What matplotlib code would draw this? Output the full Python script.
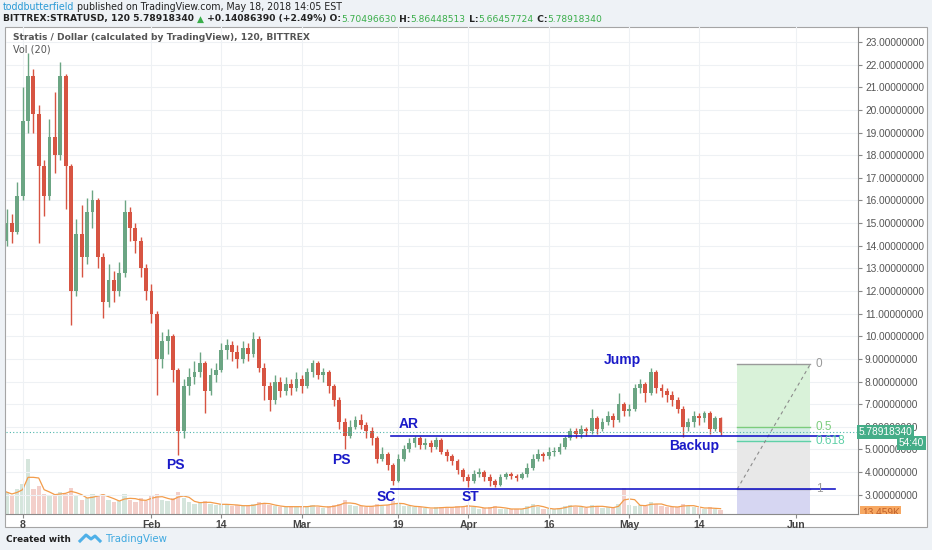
import numpy as np
import pandas as pd
import matplotlib
matplotlib.use("Agg")
import matplotlib.pyplot as plt
from matplotlib.patches import Rectangle
from matplotlib.transforms import Bbox

plt.rcParams["font.family"] = ["Liberation Sans", "DejaVu Sans"]

# 2h STRAT/USD chart from TradingView, resampled by eye to one candle per day
# day numbers are days since Jan 1 2018 (Jan 8 = 7, Feb 1 = 31, ...)
first_day = 4
first_open = 14.2
close = [15.0, 14.6, 16.2, 19.5, 21.5, 19.8, 17.5, 16.2, 18.8, 18.0,
         21.5, 17.5, 12.0, 14.5, 13.5, 15.5, 16.0, 13.5, 11.5, 12.5,
         12.0, 12.8, 15.5, 14.8, 14.2, 13.0, 12.0, 11.0, 9.0, 9.8,
         10.0, 8.5, 5.8, 7.8, 8.2, 8.4, 8.8, 7.6, 8.3, 8.5,
         9.4, 9.6, 9.3, 9.0, 9.5, 9.2, 9.9, 8.6, 7.8, 7.2,
         8.0, 7.6, 7.9, 7.7, 8.1, 7.8, 8.4, 8.8, 8.3, 8.4,
         7.8, 7.2, 6.2, 5.6, 6.0, 6.3, 6.1, 5.8, 5.5, 4.6,
         4.8, 4.3, 3.6, 4.6, 5.0, 5.3, 5.5, 5.2, 5.3, 5.1,
         5.4, 4.9, 4.7, 4.5, 4.1, 3.8, 3.6, 3.9, 4.0, 3.8,
         3.6, 3.45, 3.8, 3.9, 3.85, 3.75, 3.9, 4.2, 4.6, 4.8,
         4.7, 4.9, 4.9, 5.1, 5.5, 5.8, 5.7, 5.9, 5.8, 6.4,
         5.9, 6.2, 6.5, 6.3, 7.0, 6.7, 6.8, 7.7, 7.9, 7.5,
         8.4, 7.7, 7.6, 7.4, 7.2, 6.8, 6.0, 6.2, 6.5, 6.4,
         6.6, 5.9, 6.4, 5.79]
high = [15.6, 15.4, 16.8, 21.0, 22.5, 21.8, 20.2, 17.8, 19.6, 20.8,
        22.1, 21.6, 17.6, 15.2, 15.8, 16.1, 16.45, 16.1, 13.7, 13.2,
        12.9, 13.3, 16.0, 15.7, 15.0, 14.4, 13.2, 12.3, 11.1, 10.2,
        10.3, 10.1, 8.6, 8.1, 8.6, 8.9, 9.3, 8.9, 8.6, 8.8,
        9.7, 9.9, 9.8, 9.6, 9.8, 9.7, 10.2, 10.0, 8.8, 8.0,
        8.3, 8.2, 8.2, 8.1, 8.4, 8.3, 8.6, 8.95, 8.9, 8.6,
        8.5, 7.9, 7.3, 6.4, 6.3, 6.5, 6.55, 6.2, 6.0, 5.6,
        5.1, 4.9, 4.4, 4.8, 5.2, 5.5, 5.6, 5.6, 5.5, 5.4,
        5.55, 5.5, 5.0, 4.8, 4.6, 4.2, 3.9, 4.1, 4.2, 4.1,
        3.9, 3.7, 3.9, 4.0, 4.0, 3.9, 4.0, 4.4, 4.8, 5.0,
        4.9, 5.1, 5.1, 5.3, 5.6, 5.95, 5.95, 6.1, 6.0, 6.8,
        6.5, 6.4, 6.7, 6.6, 7.5, 7.1, 7.0, 7.9, 8.1, 8.0,
        8.6, 8.5, 7.9, 7.7, 7.6, 7.3, 6.9, 6.4, 6.7, 6.6,
        6.7, 6.7, 6.5, 6.45]
low = [14.0, 14.1, 14.5, 16.0, 19.0, 19.0, 14.1, 15.3, 16.0, 17.2,
       17.8, 15.6, 10.5, 11.8, 12.6, 13.2, 14.8, 13.0, 10.8, 11.3,
       11.5, 11.8, 12.6, 14.2, 13.7, 12.6, 11.6, 10.6, 7.4, 8.6,
       9.2, 8.0, 4.75, 5.5, 7.4, 7.9, 8.2, 6.6, 7.4, 8.0,
       8.4, 9.0, 8.9, 8.6, 8.8, 8.9, 9.1, 8.4, 7.2, 6.7,
       7.0, 7.3, 7.4, 7.4, 7.6, 7.5, 7.7, 8.2, 8.1, 8.0,
       7.5, 6.9, 5.9, 5.0, 5.5, 5.9, 5.9, 5.5, 5.2, 4.4,
       4.5, 4.1, 3.43, 3.55, 4.5, 4.9, 5.1, 5.0, 5.0, 4.9,
       5.0, 4.8, 4.5, 4.3, 3.9, 3.6, 3.35, 3.5, 3.8, 3.6,
       3.4, 3.33, 3.4, 3.7, 3.7, 3.6, 3.7, 3.8, 4.1, 4.5,
       4.5, 4.6, 4.7, 4.8, 5.0, 5.4, 5.5, 5.5, 5.6, 5.7,
       5.7, 5.8, 6.1, 6.0, 6.2, 6.5, 6.5, 6.7, 7.5, 7.1,
       7.4, 7.5, 7.3, 7.1, 6.9, 6.6, 5.55, 5.8, 6.0, 6.1,
       6.2, 5.7, 5.8, 5.66]
volume = [22, 18, 25, 30, 55, 25, 28, 20, 18, 20,
          22, 20, 26, 18, 14, 16, 20, 18, 20, 14,
          12, 13, 20, 14, 12, 16, 13, 18, 20, 14,
          13, 16, 22, 16, 12, 10, 12, 13, 10, 9,
          10, 10, 8, 9, 8, 8, 10, 12, 10, 9,
          8, 7, 7, 8, 7, 7, 8, 9, 7, 6,
          8, 9, 10, 14, 9, 8, 8, 7, 8, 10,
          8, 9, 13, 10, 8, 8, 7, 7, 6, 5,
          7, 7, 6, 7, 8, 7, 9, 7, 5, 6,
          7, 8, 5, 5, 5, 5, 5, 8, 10, 7,
          5, 5, 5, 6, 8, 9, 7, 7, 6, 9,
          8, 6, 7, 6, 10, 26, 9, 8, 9, 8,
          12, 10, 8, 7, 7, 7, 10, 8, 7, 6,
          5, 7, 5, 4]

last_price = 5.78918340
ar_level = 5.6
sc_level = 3.24
fib_top = 8.76
fib_bottom = 3.25
fib_ratios = [0, 0.5, 0.618, 1]

tick_days = [7, 31, 44, 59, 77, 90, 105, 120, 133, 151]
tick_labels = ["8", "Feb", "14", "Mar", "19", "Apr", "16", "May", "14", "Jun"]

wyckoff = [("PS", 35.5, 4.31), ("PS", 66.4, 4.53), ("SC", 74.8, 2.9),
           ("AR", 78.9, 6.12), ("ST", 90.4, 2.9), ("Jump", 118.7, 8.95),
           ("Backup", 132.0, 5.15)]

W, H = 932, 550
up_col = "#6ba583"
down_col = "#d75442"
blue = "#1a1ac8"

fig = plt.figure(figsize=(W / 100, H / 100), dpi=100)
fig.patch.set_facecolor("#eef2f6")

def fx(x):
    return x / W

def fy(y):
    return 1 - y / H

# white chart frame
fig.patches.append(Rectangle((fx(5), fy(527)), fx(922), 500 / H, transform=fig.transFigure,
                             facecolor="white", edgecolor="#a5a5a5", lw=0.8, zorder=0))

rect = [fx(6), fy(514), fx(852), 487 / H]
vax = fig.add_axes(rect)
ax = fig.add_axes(rect, sharex=vax)
vax.set_zorder(1)
ax.set_zorder(2)
ax.patch.set_visible(False)
vax.patch.set_visible(False)

c = np.array(close)
o = np.concatenate([[first_open], c[:-1]])
h = np.array(high)
l = np.array(low)
days = first_day + np.arange(len(c))
rising = c >= o
cols = np.where(rising, up_col, down_col)

# volume pane
vol = np.array(volume)
vax.bar(days, vol, width=0.8, color=cols, alpha=0.28, lw=0)
vol_ma = pd.Series(vol).rolling(3, min_periods=1).mean()
vax.plot(days, vol_ma, color="#f39c4a", lw=0.9)
vax.set_ylim(0, 487)
vax.axis("off")

# candles
ax.vlines(days, l, h, colors=cols, lw=1.0)
ax.bar(days, np.maximum(np.abs(c - o), 0.05), bottom=np.minimum(o, c), width=0.72, color=cols, lw=0)

ax.set_xlim(3.9, 162.6)
ax.set_ylim(2.15, 23.66)

# fib retracement box
x0, x1 = 140.1, 153.7
span = fib_top - fib_bottom
lv = [fib_top - r * span for r in fib_ratios]
ax.fill_between([x0, x1], lv[1], lv[0], color="#d9f2d9", lw=0)
ax.fill_between([x0, x1], lv[2], lv[1], color="#d5eee6", lw=0)
ax.fill_between([x0, x1], lv[3], lv[2], color="#e8e8e8", lw=0)
ax.fill_between([x0, x1], 2.15, lv[3], color="#d6d6f2", lw=0)
fib_cols = ["#9a9a9a", "#7ccc7c", "#5fd0a8", "#9a9a9a"]
for r, y, fc in zip(fib_ratios, lv, fib_cols):
    ax.plot([x0, x1], [y, y], color=fc, lw=1)
    ax.text(154.7, y, "%g" % r, color=fc, fontsize=8.5, va="center", ha="left")
ax.plot([x0, x1], [fib_bottom, fib_top], color="#8c8c8c", lw=0.8, ls=(0, (3, 3)))

# support / resistance
ax.plot([75.7, 159.1], [ar_level, ar_level], color=blue, lw=1.2)
ax.plot([75.7, 158.4], [sc_level, sc_level], color=blue, lw=1.2)
ax.axhline(last_price, color="#4db6ac", lw=0.8, ls=(0, (1, 2)))

for txt, d, v in wyckoff:
    ax.text(d, v, txt, color=blue, fontsize=10, fontweight="bold", ha="center", va="center")

# axes styling
ax.yaxis.tick_right()
ax.set_yticks(range(3, 24))
ax.yaxis.set_major_formatter(plt.FuncFormatter(lambda v, p: "%.8f" % v))
ax.tick_params(axis="y", labelsize=7.3, labelcolor="#555555", color="#888888", length=3, pad=2)
ax.set_xticks(tick_days, tick_labels)
ax.tick_params(axis="x", labelsize=7.5, labelcolor="#444444", color="#888888", length=3, pad=1)
for lab in ax.get_xticklabels():
    lab.set_fontweight("bold")
ax.grid(True, color="#eef1f4", lw=0.8)
ax.set_axisbelow(True)
for s in ["top", "left"]:
    ax.spines[s].set_visible(False)
for s in ["right", "bottom"]:
    ax.spines[s].set_color("#8a8a8a")

# price-scale labels
fig.text(fx(859), fy(432), "5.78918340", color="white", fontsize=7.3, va="center", ha="left",
         bbox=dict(boxstyle="square,pad=0.15", fc="#45ad88", ec="none"))
fig.text(fx(924), fy(443), "54:40", color="white", fontsize=7.3, va="center", ha="right",
         bbox=dict(boxstyle="square,pad=0.15", fc="#45ad88", ec="none"))
t = fig.text(fx(862), fy(513), "13.459K", color="#c0602a", fontsize=7.3, va="center", ha="left",
             bbox=dict(boxstyle="square,pad=0.15", fc="#f7a862", ec="none"))
t.set_clip_box(Bbox.from_extents(850, H - 514, 932, H - 500))
t.set_clip_on(True)

# header lines, sized so each line spans the same width as in the screenshot
renderer = fig.canvas.get_renderer()

def chunks(x, y, parts, size, target):
    made = []
    x_start = x
    for s, col, wt in parts:
        tt = fig.text(fx(x), fy(y), s, color=col, fontsize=size, fontweight=wt, va="center",
                      ha="left", family="DejaVu Sans")
        made.append(tt)
        x += tt.get_window_extent(renderer=renderer).width
    if target is None:
        return
    for tt in made:
        tt.remove()
    chunks(x_start, y, parts, size * target / (x - x_start), None)

dark = "#222222"
green = "#3aae4a"
chunks(3, 7, [("toddbutterfield", "#2a9ad6", "normal"),
              (" published on TradingView.com, May 18, 2018 14:05 EST", dark, "normal")], 8, 343)
chunks(3, 19, [("BITTREX:STRATUSD, 120 5.78918340 ", dark, "bold"), ("\u25b2", green, "bold"),
               (" +0.14086390 (+2.49%) O:", dark, "bold"), ("5.70496630", green, "normal"),
               (" H:", dark, "bold"), ("5.86448513", green, "normal"),
               (" L:", dark, "bold"), ("5.66457724", green, "normal"),
               (" C:", dark, "bold"), ("5.78918340", green, "normal")], 8, 598)
chunks(13, 38, [("Stratis / Dollar (calculated by TradingView), 120, BITTREX", "#555555", "bold")], 8, 298)
chunks(13, 50, [("Vol (20)", "#555555", "normal")], 8, 38)

# footer
chunks(6, 539, [("Created with", dark, "bold")], 8, 64)
fig.lines.append(plt.Line2D([fx(80), fx(86), fx(91), fx(95), fx(100)],
                            [fy(541), fy(535), fy(539), fy(536), fy(541)],
                            transform=fig.transFigure, color="#4fb0e8", lw=2.2))
chunks(106, 539, [("TradingView", "#3fa9e0", "normal")], 8, 62)

fig.savefig("out.png", dpi=100, facecolor=fig.get_facecolor())
